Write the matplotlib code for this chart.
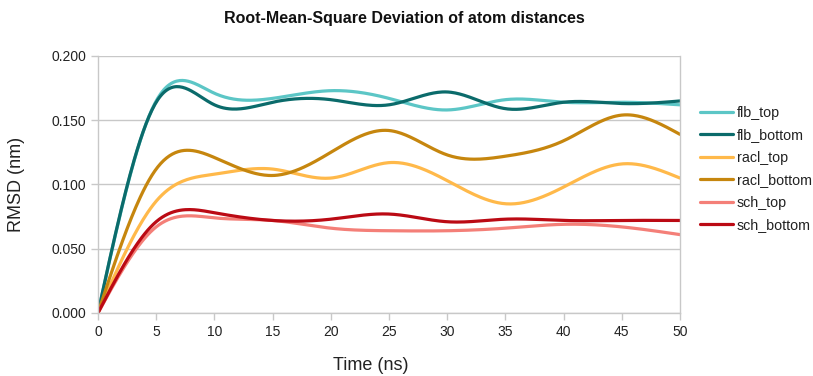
import numpy as np
import matplotlib.pyplot as plt

# Data (nm), sampled every 5 ns
time_ns = [0, 5, 10, 15, 20, 25, 30, 35, 40, 45, 50]
flb_top = [0.0, 0.165, 0.171, 0.167, 0.173, 0.167, 0.158, 0.166, 0.164, 0.164, 0.162]
flb_bottom = [0.0, 0.164, 0.162, 0.164, 0.166, 0.162, 0.172, 0.159, 0.164, 0.163, 0.165]
racl_top = [0.0, 0.087, 0.108, 0.112, 0.105, 0.117, 0.103, 0.085, 0.098, 0.116, 0.105]
racl_bottom = [0.0, 0.112, 0.121, 0.107, 0.125, 0.142, 0.123, 0.122, 0.134, 0.154, 0.139]
sch_top = [0.0, 0.067, 0.074, 0.072, 0.066, 0.064, 0.064, 0.066, 0.069, 0.067, 0.061]
sch_bottom = [0.0, 0.071, 0.078, 0.072, 0.073, 0.077, 0.071, 0.073, 0.072, 0.072, 0.072]

series = [
    ('flb_top', flb_top, '#5cc6c6'),
    ('flb_bottom', flb_bottom, '#0b6b6b'),
    ('racl_top', racl_top, '#ffb94a'),
    ('racl_bottom', racl_bottom, '#c6860e'),
    ('sch_top', sch_top, '#f47f78'),
    ('sch_bottom', sch_bottom, '#bb0a14'),
]


def natural_spline(x, y, n=400):
    # natural cubic spline, like the smoothed lines of a spreadsheet chart
    x = np.asarray(x, float)
    y = np.asarray(y, float)
    k = len(x)
    h = np.diff(x)
    A = np.zeros((k, k))
    b = np.zeros(k)
    A[0, 0] = A[-1, -1] = 1
    for i in range(1, k - 1):
        A[i, i - 1] = h[i - 1]
        A[i, i] = 2 * (h[i - 1] + h[i])
        A[i, i + 1] = h[i]
        b[i] = 3 * ((y[i + 1] - y[i]) / h[i] - (y[i] - y[i - 1]) / h[i - 1])
    c = np.linalg.solve(A, b)
    xs = np.linspace(x[0], x[-1], n)
    idx = np.clip(np.searchsorted(x, xs, side='right') - 1, 0, k - 2)
    dx = xs - x[idx]
    hi = h[idx]
    bi = (y[idx + 1] - y[idx]) / hi - hi * (2 * c[idx] + c[idx + 1]) / 3
    di = (c[idx + 1] - c[idx]) / (3 * hi)
    ys = y[idx] + bi * dx + c[idx] * dx ** 2 + di * dx ** 3
    return xs, ys


plt.rcParams['font.family'] = ['Liberation Sans', 'DejaVu Sans']

fig = plt.figure(figsize=(8.13, 3.76), dpi=100)
ax = fig.add_axes([0.1205, 0.1676, 0.7159, 0.6835])

for name, vals, color in series:
    xs, ys = natural_spline(time_ns, vals)
    ax.plot(xs, ys, color=color, linewidth=2.3, label=name, solid_capstyle='round')

ax.set_xlim(0, 50)
ax.set_ylim(0, 0.2)
ax.set_xticks(np.arange(0, 51, 5))
ax.set_yticks(np.arange(0, 0.201, 0.05))
ax.set_yticklabels([f'{v:.3f}' for v in np.arange(0, 0.201, 0.05)])
ax.yaxis.grid(True, color='#c8c8c8', linewidth=1)
ax.set_axisbelow(True)
for s in ax.spines.values():
    s.set_color('#c8c8c8')
    s.set_linewidth(1)
ax.spines['top'].set_visible(False)
ax.tick_params(colors='#c8c8c8', labelcolor='#222222', labelsize=10, length=5, width=1)

ax.set_xlabel('Time (ns)', fontsize=13, color='#222222')
ax.xaxis.set_label_coords(0.469, -0.171)
ax.set_ylabel('RMSD (nm)', fontsize=13, color='#222222')
ax.yaxis.set_label_coords(-0.125, 0.5)
fig.text(0.498, 0.952, 'Root-Mean-Square Deviation of atom distances',
         ha='center', va='center', fontsize=11.5, fontweight='bold', color='#111111')

ax.legend(loc='center left', bbox_to_anchor=(1.024, 0.56), frameon=False,
          borderaxespad=0, fontsize=10.3, handlelength=2.3, handletextpad=0.3,
          labelspacing=0.59, labelcolor='#222222')

fig.savefig('out.png', dpi=100)
